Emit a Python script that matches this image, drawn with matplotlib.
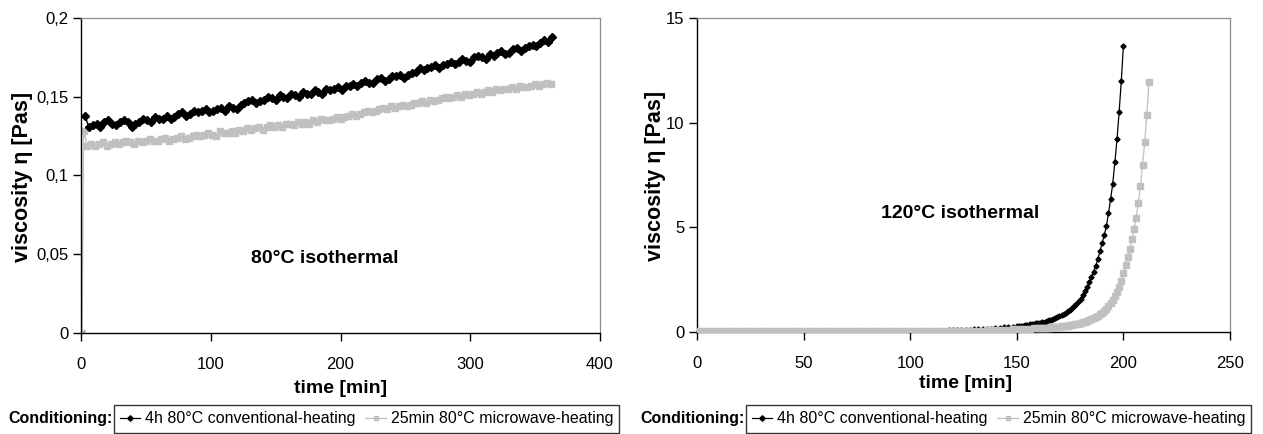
import numpy as np
import matplotlib
matplotlib.use("Agg")
import matplotlib.pyplot as plt
from matplotlib.lines import Line2D

plt.rcParams['font.family'] = ['Liberation Sans', 'DejaVu Sans']

# ---------------- data: 80 °C isothermal (left) ----------------
t80_conv = np.arange(3, 364, 3)
eta80_conv = [
    0.138, 0.131, 0.132, 0.133, 0.131, 0.134, 0.135, 0.133, 0.132, 0.134,
    0.135, 0.134, 0.131, 0.133, 0.134, 0.136, 0.135, 0.134, 0.137, 0.136,
    0.136, 0.138, 0.136, 0.137, 0.139, 0.140, 0.138, 0.139, 0.141, 0.140,
    0.141, 0.142, 0.140, 0.141, 0.142, 0.143, 0.141, 0.144, 0.143, 0.142,
    0.145, 0.146, 0.147, 0.148, 0.146, 0.147, 0.148, 0.150, 0.149, 0.148,
    0.151, 0.150, 0.149, 0.152, 0.151, 0.150, 0.153, 0.152, 0.152, 0.154,
    0.153, 0.152, 0.155, 0.154, 0.155, 0.156, 0.154, 0.157, 0.157, 0.158,
    0.157, 0.159, 0.160, 0.159, 0.159, 0.161, 0.162, 0.160, 0.161, 0.163,
    0.163, 0.164, 0.162, 0.164, 0.165, 0.166, 0.168, 0.167, 0.168, 0.169,
    0.170, 0.168, 0.170, 0.171, 0.172, 0.171, 0.172, 0.174, 0.173, 0.172,
    0.175, 0.176, 0.175, 0.174, 0.177, 0.176, 0.178, 0.179, 0.177, 0.178,
    0.180, 0.181, 0.179, 0.181, 0.182, 0.183, 0.182, 0.184, 0.186, 0.185,
    0.188,
]
t80_micro = np.concatenate([[0.8], np.arange(2, 363, 3)])
eta80_micro = [
    0.0,
    0.128, 0.119, 0.120, 0.119, 0.120, 0.121, 0.119, 0.120, 0.121, 0.120,
    0.121, 0.122, 0.121, 0.120, 0.122, 0.121, 0.122, 0.123, 0.122, 0.122,
    0.123, 0.124, 0.122, 0.123, 0.124, 0.125, 0.123, 0.124, 0.125, 0.126,
    0.125, 0.126, 0.127, 0.126, 0.125, 0.128, 0.127, 0.127, 0.128, 0.127,
    0.129, 0.128, 0.130, 0.129, 0.130, 0.131, 0.129, 0.131, 0.132, 0.131,
    0.132, 0.131, 0.133, 0.133, 0.132, 0.134, 0.133, 0.134, 0.133, 0.135,
    0.134, 0.136, 0.135, 0.135, 0.136, 0.137, 0.136, 0.137, 0.138, 0.139,
    0.138, 0.139, 0.140, 0.141, 0.140, 0.141, 0.142, 0.143, 0.142, 0.144,
    0.143, 0.144, 0.145, 0.144, 0.145, 0.146, 0.146, 0.147, 0.146, 0.148,
    0.147, 0.148, 0.149, 0.150, 0.149, 0.150, 0.151, 0.150, 0.152, 0.151,
    0.152, 0.153, 0.152, 0.153, 0.154, 0.153, 0.155, 0.154, 0.155, 0.155,
    0.156, 0.155, 0.157, 0.156, 0.156, 0.157, 0.158, 0.157, 0.158, 0.159,
    0.158,
]

# ---------------- data: 120 °C isothermal (right) ----------------
t120_conv = np.concatenate([np.arange(0, 150, 2), np.arange(150, 201, 1)])
eta120_conv = [
    0.03, 0.03, 0.03, 0.03, 0.03, 0.03, 0.03, 0.03, 0.03, 0.03,
    0.03, 0.03, 0.03, 0.03, 0.03, 0.03, 0.03, 0.03, 0.03, 0.03,
    0.03, 0.03, 0.03, 0.03, 0.03, 0.03, 0.03, 0.03, 0.03, 0.03,
    0.04, 0.04, 0.04, 0.04, 0.04, 0.04, 0.04, 0.04, 0.04, 0.04,
    0.04, 0.04, 0.04, 0.04, 0.04, 0.05, 0.05, 0.05, 0.05, 0.05,
    0.05, 0.05, 0.06, 0.06, 0.06, 0.06, 0.07, 0.07, 0.07, 0.08,
    0.08, 0.09, 0.09, 0.10, 0.11, 0.12, 0.13, 0.14, 0.15, 0.16,
    0.18, 0.20, 0.22, 0.24, 0.26,
    0.28, 0.29, 0.30, 0.31, 0.33, 0.34, 0.36, 0.37, 0.39, 0.41,
    0.43, 0.45, 0.47, 0.50, 0.52, 0.55, 0.58, 0.62, 0.66, 0.70,
    0.75, 0.80, 0.86, 0.92, 0.98, 1.05, 1.14, 1.24, 1.35, 1.47,
    1.60, 1.77, 1.96, 2.16, 2.38, 2.62, 2.88, 3.16, 3.48, 3.85,
    4.25, 4.62, 5.05, 5.67, 6.34, 7.09, 8.12, 9.20, 10.51, 11.97,
    13.68,
]
t120_micro = np.concatenate([np.arange(0, 160, 2), np.arange(160, 213, 1)])
eta120_micro = [
    0.03, 0.03, 0.03, 0.03, 0.03, 0.03, 0.03, 0.03, 0.03, 0.03,
    0.03, 0.03, 0.03, 0.03, 0.03, 0.03, 0.03, 0.03, 0.03, 0.03,
    0.03, 0.03, 0.03, 0.03, 0.03, 0.03, 0.03, 0.03, 0.03, 0.03,
    0.04, 0.04, 0.04, 0.04, 0.04, 0.04, 0.04, 0.04, 0.04, 0.04,
    0.04, 0.04, 0.04, 0.04, 0.04, 0.04, 0.04, 0.04, 0.04, 0.04,
    0.05, 0.05, 0.05, 0.05, 0.05, 0.05, 0.05, 0.05, 0.05, 0.05,
    0.05, 0.05, 0.05, 0.06, 0.06, 0.06, 0.07, 0.07, 0.08, 0.08,
    0.09, 0.09, 0.10, 0.11, 0.12, 0.13, 0.14, 0.15, 0.16, 0.17,
    0.18, 0.185, 0.19, 0.20, 0.205, 0.21, 0.22, 0.23, 0.24, 0.25,
    0.26, 0.27, 0.28, 0.295, 0.31, 0.32, 0.34, 0.36, 0.38, 0.405,
    0.43, 0.46, 0.49, 0.52, 0.56, 0.61, 0.66, 0.72, 0.78, 0.85,
    0.93, 1.02, 1.12, 1.24, 1.38, 1.53, 1.72, 1.92, 2.15, 2.45,
    2.80, 3.20, 3.60, 3.97, 4.42, 4.92, 5.46, 6.18, 6.99, 7.99,
    9.09, 10.37, 11.93,
]

series_labels = ["4h 80°C conventional-heating", "25min 80°C microwave-heating"]
left_yticks = [0, 0.05, 0.1, 0.15, 0.2]
left_yticklabels = ["0", "0,05", "0,1", "0,15", "0,2"]
left_xticks = [0, 100, 200, 300, 400]
right_yticks = [0, 5, 10, 15]
right_xticks = [0, 50, 100, 150, 200, 250]

BLACK = "#000000"
GRAY = "#c0c0c0"
FRAME = "#8c8c8c"

W, H = 1263, 434
fig = plt.figure(figsize=(W / 100, H / 100), dpi=100)

axL = fig.add_axes([81 / W, 1 - 333 / H, 519 / W, 315 / H])
axR = fig.add_axes([697 / W, 1 - 332 / H, 533 / W, 314 / H])


def style(ax):
    for s in ("top", "right"):
        ax.spines[s].set_color(FRAME)
        ax.spines[s].set_linewidth(0.9)
    for s in ("left", "bottom"):
        ax.spines[s].set_color("black")
        ax.spines[s].set_linewidth(1.0)
    ax.tick_params(axis="both", direction="out", length=6, width=1.0,
                   labelsize=12, colors="black")
    ax.tick_params(axis="x", pad=11)
    ax.tick_params(axis="y", pad=3)


# left chart
axL.plot(t80_conv, eta80_conv, color=BLACK, lw=1.0, marker="D", ms=4.5,
         mec=BLACK, mfc=BLACK, zorder=3)
axL.plot(t80_micro, eta80_micro, color=GRAY, lw=1.0, marker="s", ms=3.8,
         mec=GRAY, mfc=GRAY, zorder=2)
axL.set_xlim(0, 400)
axL.set_ylim(0, 0.2)
axL.set_xticks(left_xticks)
axL.set_yticks(left_yticks)
axL.set_yticklabels(left_yticklabels)
style(axL)
axL.set_xlabel("time [min]", fontsize=14, fontweight="bold")
axL.xaxis.set_label_coords(0.5006, -0.149)
axL.set_ylabel("viscosity η [Pas]", fontsize=15.5, fontweight="bold")
axL.yaxis.set_label_coords(-0.0925, 0.497)
axL.text(188, 0.0476, "80°C isothermal", fontsize=14, fontweight="bold",
         ha="center", va="center")

# right chart
axR.plot(t120_conv, eta120_conv, color=BLACK, lw=0.9, marker="D", ms=2.6,
         mec=BLACK, mfc=BLACK, zorder=2)
axR.plot(t120_micro, eta120_micro, color=GRAY, lw=0.9, marker="s", ms=4.6,
         mec=GRAY, mfc=GRAY, zorder=3)
axR.set_xlim(0, 250)
axR.set_ylim(0, 15)
axR.set_xticks(right_xticks)
axR.set_yticks(right_yticks)
style(axR)
axR.set_xlabel("time [min]", fontsize=14, fontweight="bold")
axR.xaxis.set_label_coords(0.504, -0.137)
axR.set_ylabel("viscosity η [Pas]", fontsize=15.5, fontweight="bold")
axR.yaxis.set_label_coords(-0.058, 0.497)
axR.text(123.4, 5.67, "120°C isothermal", fontsize=14, fontweight="bold",
         ha="center", va="center")

# legends
handles = [
    Line2D([0], [0], color=BLACK, lw=0.9, marker="D", ms=2.8),
    Line2D([0], [0], color=GRAY, lw=0.9, marker="s", ms=3.2),
]
for left_px in (114, 746):
    cx = (left_px + 505 / 2) / W
    leg = fig.legend(handles, series_labels, loc="center",
                     bbox_to_anchor=(cx, 15 / H), ncol=2, frameon=True,
                     fancybox=False, edgecolor="black",
                     prop={'family': ['Liberation Sans'], 'size': 11.5},
                     handlelength=1.3, handletextpad=0.3, columnspacing=0.6,
                     borderpad=0.38, borderaxespad=0)
    leg.get_frame().set_linewidth(1.0)
    fig.text((left_px - 1) / W, 15 / H, "Conditioning:", fontsize=11.5,
             fontweight="bold", ha="right", va="center")

fig.savefig("out.png", dpi=100)
